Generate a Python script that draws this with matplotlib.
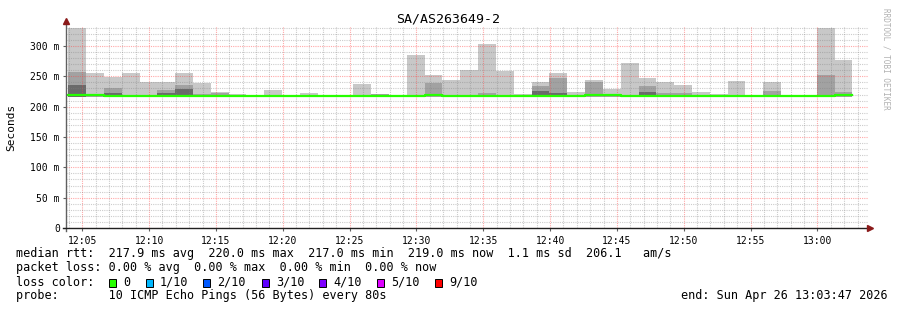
import numpy as np
import matplotlib
matplotlib.use("Agg")
import matplotlib.pyplot as plt
from matplotlib.patches import Rectangle

# smoke data, one value per 80 s step (ms)
rtt_max = [330, 256, 249, 256, 240, 240, 256, 239, 224, 221, 218, 227, 219, 222, 217,
           217, 238, 221, 218, 285, 252, 244, 260, 303, 259, 221, 241, 255, 224, 244,
           229, 272, 247, 241, 236, 224, 221, 242, 217, 241, 217, 218, 330, 277]
rtt_mid = [257, 218, 231, 219, 220, 228, 236, 221, 222, 218, 217, 217, 218, 217, 217,
           217, 218, 221, 217, 218, 239, 217, 217, 222, 217, 217, 234, 247, 217, 241,
           217, 217, 234, 222, 222, 217, 217, 218, 217, 226, 217, 217, 252, 224]
rtt_dark = [236, 216, 222, 216, 216, 222, 229, 216, 216, 216, 216, 216, 216, 216, 216,
            216, 216, 216, 216, 216, 216, 216, 216, 216, 216, 216, 226, 222, 216, 216,
            216, 216, 224, 216, 216, 216, 216, 216, 216, 216, 216, 216, 216, 216]
rtt_median = [220, 218.5, 217, 218, 218, 217.5, 217, 218, 218, 217, 217, 217, 217, 217, 217,
              217, 218, 218, 218, 218, 219.5, 217, 217, 217, 217, 217, 217.5, 217, 217, 219.5,
              218.5, 218, 217, 217, 217, 217, 217, 217.5, 217, 217.5, 217, 217, 217.5, 219]
rtt_min = 216

first_step = 3 + 57 / 60   # 12:03:57, minutes after 12:00
step = 80 / 60
x_start = 3 + 47 / 60      # 12:03:47
x_end = 63 + 47 / 60       # 13:03:47

x_tick_labels = ["12:05", "12:10", "12:15", "12:20", "12:25", "12:30",
                 "12:35", "12:40", "12:45", "12:50", "12:55", "13:00"]
y_ticks = [0, 50, 100, 150, 200, 250, 300]
y_tick_labels = ["0", "50 m", "100 m", "150 m", "200 m", "250 m", "300 m"]

loss_labels = ["0", "1/10", "2/10", "3/10", "4/10", "5/10", "9/10"]
loss_colors = ["#26ff00", "#00b8ff", "#0059ff", "#5e00ff", "#7e00ff", "#dd00ff", "#ff0000"]

mono = "DejaVu Sans Mono"
W, H = 897, 310

fig = plt.figure(figsize=(W / 100, H / 100), dpi=100)
ax = fig.add_axes([66 / W, 1 - 228 / H, 802 / W, 202 / H])

t = first_step + step * np.arange(len(rtt_max))
base = np.full(len(t), rtt_min)
ax.bar(t, np.array(rtt_max) - base, bottom=base, width=step, align="edge",
       color="#c8c8c8", lw=0, zorder=1)
ax.bar(t, np.array(rtt_mid) - base, bottom=base, width=step, align="edge",
       color="#a2a2a2", lw=0, zorder=1.1)
ax.bar(t, np.array(rtt_dark) - base, bottom=base, width=step, align="edge",
       color="#6a6a6a", lw=0, zorder=1.2)
xs = np.append(t, t[-1] + step)
ys = np.append(rtt_median, rtt_median[-1])
ax.step(xs, ys, where="post", color=loss_colors[0], lw=1.6, zorder=4)

ax.set_xlim(x_start, x_end)
ax.set_ylim(0, 333)

xt = [int(s[:2]) * 60 + int(s[3:]) - 720 for s in x_tick_labels]
ax.set_xticks(xt)
ax.set_xticklabels(x_tick_labels, family=mono, fontsize=7)
ax.set_xticks(np.arange(4, 64, 1), minor=True)
ax.set_yticks(y_ticks)
ax.set_yticklabels(y_tick_labels, family=mono, fontsize=7)
ax.set_yticks(np.arange(0, 340, 10), minor=True)
ax.tick_params(axis="both", which="major", length=2.5, width=0.8, color="#606060", pad=2)
ax.tick_params(axis="x", which="major", pad=3)
ax.tick_params(which="minor", length=0)

# rrdtool draws a translucent grid over the smoke
ax.set_axisbelow(False)
ax.grid(which="minor", color="#808080", alpha=0.4, linestyle=(0, (1, 1)), lw=0.8)
ax.grid(which="major", color="#ff4040", alpha=0.45, linestyle=(0, (1, 1)), lw=0.8)

for s in ax.spines.values():
    s.set_visible(False)
ax.plot([0, 0], [-0.015, 1.02], transform=ax.transAxes, color="#606060", lw=1,
        clip_on=False, zorder=5)
ax.plot([-0.004, 1.0], [0, 0], transform=ax.transAxes, color="#202020", lw=1,
        clip_on=False, zorder=5)
ax.plot([0], [1.025], marker="^", ms=4.5, color="#8b1a1a", transform=ax.transAxes,
        clip_on=False, zorder=6)
ax.plot([1.003], [0], marker=">", ms=4.5, color="#8b1a1a", transform=ax.transAxes,
        clip_on=False, zorder=6)

fig.text(448 / W, 1 - 19 / H, "SA/AS263649-2", ha="center", va="center",
         family=mono, fontsize=9.5)
fig.text(11 / W, 1 - 127 / H, "Seconds", ha="center", va="center", rotation=90,
         family=mono, fontsize=8)
fig.text(886 / W, 1 - 59 / H, "RRDTOOL / TOBI OETIKER", ha="center", va="center",
         rotation=270, family=mono, fontsize=5.5, color="#b0b0b0")

lines = [
    "median rtt:  217.9 ms avg  220.0 ms max  217.0 ms min  219.0 ms now  1.1 ms sd  206.1   am/s",
    "packet loss: 0.00 % avg  0.00 % max  0.00 % min  0.00 % now",
    "loss color:",
    "probe:       10 ICMP Echo Pings (56 Bytes) every 80s",
]
for i, line in enumerate(lines):
    fig.text(16 / W, 1 - (254 + 14 * i) / H, line, ha="left", va="center",
             family=mono, fontsize=8.5)

sq_x = [109, 146, 203, 262, 319, 377, 435]
for x, lab, col in zip(sq_x, loss_labels, loss_colors):
    fig.patches.append(Rectangle((x / W, 1 - 286.5 / H), 7 / W, 8 / H,
                                 transform=fig.transFigure, facecolor=col,
                                 edgecolor="black", lw=0.7))
    fig.text((x + 14) / W, 1 - 282 / H, lab, ha="left", va="center",
             family=mono, fontsize=8.5)

fig.text(888 / W, 1 - 296 / H, "end: Sun Apr 26 13:03:47 2026", ha="right",
         va="center", family=mono, fontsize=8.5)

fig.savefig("out.png", dpi=100)
